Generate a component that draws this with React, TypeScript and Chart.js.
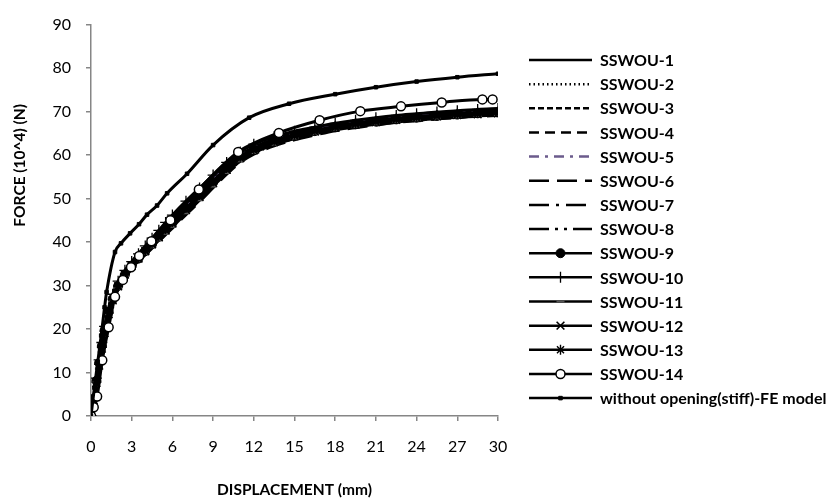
import React, { useEffect, useRef } from "react";
import { Chart, registerables } from "chart.js";
import { drawPoint } from "chart.js/helpers";

Chart.register(...registerables);

// ---------- data ----------
const DISP = [0, 0.2, 0.4, 0.6, 0.8, 1.0, 1.3, 1.6, 2.0, 2.5, 3.0, 3.5, 4.0, 4.5, 5.0, 5.5, 6.0, 7.0, 8.0, 9.0, 10.0, 11.0, 12.0, 13.5, 15.0, 16.5, 18.0, 19.5, 21.0, 22.5, 24.0, 25.5, 27.0, 28.5, 30.0];

const SSWOU_1 = [0, 4.2, 8.5, 12.6, 16.5, 20.2, 24.4, 27.4, 30.3, 32.9, 34.9, 36.7, 38.4, 40.1, 41.8, 43.4, 45.1, 48.3, 51.4, 54.6, 57.6, 60.1, 61.8, 63.7, 65.0, 66.0, 66.9, 67.6, 68.2, 68.7, 69.1, 69.5, 69.8, 70.0, 70.2];
const SSWOU_2 = [0, 3.8, 7.9, 11.9, 15.8, 19.3, 23.5, 26.5, 29.5, 32.1, 34.1, 35.8, 37.4, 39.0, 40.6, 42.2, 43.8, 46.9, 49.8, 53.0, 56.0, 58.6, 60.4, 62.4, 63.8, 64.9, 65.9, 66.6, 67.2, 67.7, 68.1, 68.5, 68.8, 69.0, 69.3];
const SSWOU_3 = [0, 4.0, 8.2, 12.3, 16.2, 19.8, 24.0, 27.0, 30.0, 32.6, 34.6, 36.3, 38.0, 39.6, 41.3, 42.9, 44.5, 47.6, 50.6, 53.8, 56.8, 59.5, 61.3, 63.2, 64.6, 65.6, 66.5, 67.2, 67.8, 68.3, 68.7, 69.1, 69.4, 69.7, 70.0];
const SSWOU_4 = [0, 3.9, 8.0, 12.0, 15.9, 19.5, 23.7, 26.7, 29.7, 32.3, 34.3, 36.0, 37.6, 39.2, 40.9, 42.5, 44.1, 47.1, 50.1, 53.3, 56.3, 59.0, 60.9, 62.8, 64.2, 65.2, 66.1, 66.8, 67.4, 67.9, 68.3, 68.7, 69.0, 69.3, 69.5];
const SSWOU_5 = [0, 4.1, 8.3, 12.4, 16.4, 20.0, 24.2, 27.2, 30.2, 32.8, 34.8, 36.5, 38.2, 39.9, 41.6, 43.2, 44.9, 48.0, 51.0, 54.2, 57.2, 59.8, 61.6, 63.5, 64.9, 65.9, 66.8, 67.5, 68.1, 68.6, 69.0, 69.4, 69.7, 70.0, 70.3];
const SSWOU_6 = [0, 3.7, 7.7, 11.6, 15.4, 19.0, 23.1, 26.1, 29.1, 31.8, 33.8, 35.5, 37.1, 38.6, 40.2, 41.7, 43.2, 46.3, 49.3, 52.5, 55.6, 58.3, 60.2, 62.1, 63.5, 64.6, 65.6, 66.3, 66.9, 67.5, 67.9, 68.3, 68.6, 68.9, 69.1];
const SSWOU_7 = [0, 4.1, 8.4, 12.5, 16.4, 20.1, 24.3, 27.3, 30.4, 33.0, 35.0, 36.8, 38.5, 40.2, 41.9, 43.6, 45.3, 48.5, 51.6, 54.7, 57.5, 59.9, 61.7, 63.6, 64.9, 65.9, 66.8, 67.5, 68.1, 68.6, 69.0, 69.4, 69.7, 70.0, 70.2];
const SSWOU_8 = [0, 3.9, 8.0, 12.1, 16.0, 19.6, 23.8, 26.8, 29.8, 32.4, 34.4, 36.1, 37.8, 39.4, 41.0, 42.6, 44.2, 47.3, 50.3, 53.5, 56.5, 59.2, 61.0, 62.9, 64.3, 65.4, 66.3, 67.0, 67.6, 68.1, 68.5, 68.9, 69.2, 69.5, 69.7];
const SSWOU_9 = [0, 4.0, 8.1, 12.2, 16.1, 19.7, 23.9, 26.9, 29.9, 32.5, 34.5, 36.2, 37.9, 39.5, 41.2, 42.8, 44.4, 47.5, 50.5, 53.7, 56.7, 59.4, 61.2, 63.1, 64.5, 65.5, 66.4, 67.1, 67.7, 68.2, 68.6, 69.0, 69.3, 69.6, 69.8];
const SSWOU_10 = [0, 4.3, 8.7, 12.9, 16.9, 20.6, 24.9, 28.0, 31.0, 33.5, 35.5, 37.3, 39.1, 40.9, 42.7, 44.5, 46.2, 49.4, 52.4, 55.4, 58.3, 60.7, 62.5, 64.2, 65.5, 66.4, 67.3, 68.0, 68.6, 69.1, 69.5, 69.9, 70.2, 70.5, 70.7];
const SSWOU_11 = [0, 3.8, 7.8, 11.8, 15.6, 19.2, 23.3, 26.3, 29.3, 32.0, 34.0, 35.7, 37.3, 38.8, 40.4, 41.9, 43.5, 46.6, 49.6, 52.8, 55.9, 58.6, 60.5, 62.4, 63.8, 64.9, 65.8, 66.5, 67.1, 67.6, 68.0, 68.4, 68.7, 69.0, 69.2];
const SSWOU_12 = [0, 3.6, 7.6, 11.6, 15.5, 19.1, 23.4, 26.6, 29.8, 32.5, 34.5, 36.2, 37.9, 39.5, 41.1, 42.7, 44.3, 47.4, 50.4, 53.6, 56.6, 59.3, 61.1, 63.0, 64.4, 65.4, 66.3, 67.0, 67.6, 68.1, 68.5, 68.9, 69.2, 69.4, 69.6];
const SSWOU_13 = [0, 3.7, 7.8, 11.9, 15.8, 19.5, 23.7, 26.8, 29.9, 32.6, 34.6, 36.3, 38.0, 39.7, 41.4, 43.0, 44.6, 47.8, 50.8, 54.0, 57.0, 59.6, 61.4, 63.3, 64.7, 65.7, 66.6, 67.3, 67.9, 68.4, 68.8, 69.2, 69.5, 69.8, 70.0];

const DISP_14 = [0, 0.2, 0.45, 0.83, 1.3, 1.77, 2.35, 2.95, 3.55, 4.45, 5.85, 7.95, 10.85, 13.85, 16.85, 19.85, 22.85, 25.85, 28.85, 29.6];
const SSWOU_14 = [0, 2.0, 4.5, 12.8, 20.4, 27.4, 31.3, 34.2, 36.8, 40.2, 45.0, 52.1, 60.7, 65.1, 68.0, 70.1, 71.2, 72.1, 72.8, 72.8];

const DISP_FE = [0, 0.25, 0.5, 0.75, 1.0, 1.15, 1.77, 2.21, 2.88, 3.54, 4.13, 4.87, 5.61, 7.08, 9.0, 11.66, 14.6, 18.0, 21.0, 24.0, 27.0, 30.0];
const FE_MODEL = [0, 6.5, 12.5, 18.5, 25.0, 28.5, 37.7, 39.7, 42.0, 44.1, 46.3, 48.4, 51.2, 55.7, 62.3, 68.6, 71.8, 74.0, 75.6, 76.9, 77.9, 78.7];

const SERIES_NAMES = ["SSWOU-1", "SSWOU-2", "SSWOU-3", "SSWOU-4", "SSWOU-5", "SSWOU-6", "SSWOU-7", "SSWOU-8", "SSWOU-9", "SSWOU-10", "SSWOU-11", "SSWOU-12", "SSWOU-13", "SSWOU-14", "without opening(stiff)-FE model"];

const X_MIN = 0, X_MAX = 30, X_STEP = 3;
const Y_MIN = 0, Y_MAX = 90, Y_STEP = 10;

const X_TITLE = "DISPLACEMENT (mm)";
const Y_TITLE = "FORCE (10^4) (N)";

// ---------- styles ----------
const FONT = "Lato, 'Liberation Sans', sans-serif";
const AXIS_GRAY = "#868686";

type Style = { dash?: number[]; color?: string; point?: string; radius?: number; fill?: string; pbw?: number; pcolor?: string };
const STYLES: Style[] = [
  {},
  { dash: [1.5, 3] },
  { dash: [6, 3] },
  { dash: [10, 6] },
  { dash: [10, 6, 3, 6], color: "#6b5b8c" },
  { dash: [20, 8] },
  { dash: [20, 7, 3, 7] },
  { dash: [20, 6, 3, 6, 3, 6] },
  { point: "circle", radius: 4.5, fill: "#000", pbw: 1 },
  { point: "cross", radius: 5.5, pbw: 1.3 },
  { point: "line", radius: 4, pbw: 2, pcolor: "#555" },
  { point: "crossRot", radius: 5.5, pbw: 1.6 },
  { point: "star", radius: 5, pbw: 1.4 },
  { point: "circle", radius: 4.5, fill: "#fff", pbw: 1.5 },
  { point: "rect", radius: 2.5, fill: "#000", pbw: 1 },
];

const BAND = [SSWOU_1, SSWOU_2, SSWOU_3, SSWOU_4, SSWOU_5, SSWOU_6, SSWOU_7, SSWOU_8, SSWOU_9, SSWOU_10, SSWOU_11, SSWOU_12, SSWOU_13];

const toPts = (xs: number[], ys: number[]) => xs.map((x, i) => ({ x, y: ys[i] }));

const SERIES_DATA = [
  ...BAND.map((s) => toPts(DISP, s)),
  toPts(DISP_14, SSWOU_14),
  toPts(DISP_FE, FE_MODEL),
];

const LEG_X0 = 529, LEG_X1 = 592, LEG_TEXT_X = 600, LEG_TOP = 60, LEG_STEP = 24.15;
const Y_TITLE_X = 20, Y_TITLE_TOP = 104;

const sideLegend = {
  id: "sideLegend",
  afterDraw(chart: any) {
    const ctx = chart.ctx as CanvasRenderingContext2D;
    chart.data.datasets.forEach((ds: any, i: number) => {
      const y = LEG_TOP + i * LEG_STEP;
      const st = STYLES[i];
      ctx.save();
      ctx.strokeStyle = st.color || "#000";
      ctx.lineWidth = 2.5;
      ctx.lineCap = "butt";
      ctx.setLineDash(st.dash || []);
      ctx.beginPath();
      ctx.moveTo(LEG_X0, y);
      ctx.lineTo(LEG_X1, y);
      ctx.stroke();
      ctx.setLineDash([]);
      if (st.point) {
        ctx.strokeStyle = st.pcolor || "#000";
        ctx.fillStyle = st.fill || "#000";
        ctx.lineWidth = st.pbw || 1;
        drawPoint(ctx, { pointStyle: st.point as any, radius: st.radius || 3, rotation: 0, borderWidth: st.pbw || 1 }, (LEG_X0 + LEG_X1) / 2, y);
      }
      ctx.fillStyle = "#000";
      ctx.font = `bold 16px ${FONT}`;
      ctx.textBaseline = "middle";
      ctx.textAlign = "left";
      ctx.fillText(SERIES_NAMES[i], LEG_TEXT_X, y + 1);
      ctx.restore();
    });
    // y axis title (rotated, ends near the 70 tick as in the reference)
    ctx.save();
    ctx.translate(Y_TITLE_X, Y_TITLE_TOP);
    ctx.rotate(-Math.PI / 2);
    ctx.fillStyle = "#000";
    ctx.font = `bold 15.5px ${FONT}`;
    ctx.textAlign = "right";
    ctx.textBaseline = "middle";
    ctx.fillText(Y_TITLE, 0, 0);
    ctx.restore();
  },
};

export default function App() {
  const ref = useRef<HTMLCanvasElement | null>(null);
  useEffect(() => {
    document.body.style.margin = "0";
    const canvas = ref.current!;
    const datasets = SERIES_DATA.map((data, i) => {
      const st = STYLES[i];
      return {
        label: SERIES_NAMES[i],
        data,
        showLine: true,
        borderColor: st.color || "#000",
        borderWidth: 3,
        borderDash: st.dash || [],
        cubicInterpolationMode: "monotone" as const,
        pointStyle: (st.point || "circle") as any,
        pointRadius: st.point ? st.radius : 0,
        pointBackgroundColor: st.fill || "#000",
        pointBorderColor: st.pcolor || "#000",
        pointBorderWidth: st.pbw || 1,
        order: SERIES_DATA.length - i,
        fill: false,
      };
    });
    const chart = new Chart(canvas, {
      type: "scatter",
      data: { datasets },
      options: {
        responsive: false,
        animation: false,
        events: [],
        layout: { padding: { left: 0, top: 22, right: 336, bottom: 0 } },
        plugins: { legend: { display: false }, tooltip: { enabled: false } },
        scales: {
          x: {
            type: "linear",
            min: X_MIN,
            max: X_MAX,
            afterFit: (s: any) => { s.height = 84; },
            ticks: { stepSize: X_STEP, color: "#000", padding: 16, font: { family: FONT, size: 16 } },
            grid: { drawOnChartArea: false, drawTicks: true, tickLength: 5, color: AXIS_GRAY, lineWidth: 1.5 },
            border: { color: AXIS_GRAY, width: 1.5 },
            title: { display: true, text: X_TITLE, color: "#000", font: { family: FONT, size: 15.5, weight: "bold" }, padding: { top: 0, bottom: 1 } },
          },
          y: {
            type: "linear",
            min: Y_MIN,
            max: Y_MAX,
            afterFit: (s: any) => { s.width = 91; },
            ticks: { stepSize: Y_STEP, color: "#000", padding: 15, font: { family: FONT, size: 16 } },
            grid: { drawOnChartArea: false, drawTicks: true, tickLength: 5, color: AXIS_GRAY, lineWidth: 1.5 },
            border: { color: AXIS_GRAY, width: 1.5 },
            title: { display: false },
          },
        },
      },
      plugins: [sideLegend],
    });
    return () => chart.destroy();
  }, []);
  return (
    <div style={{ width: 834, height: 500 }}>
      <canvas ref={ref} width={834} height={500} style={{ display: "block" }} />
    </div>
  );
}
